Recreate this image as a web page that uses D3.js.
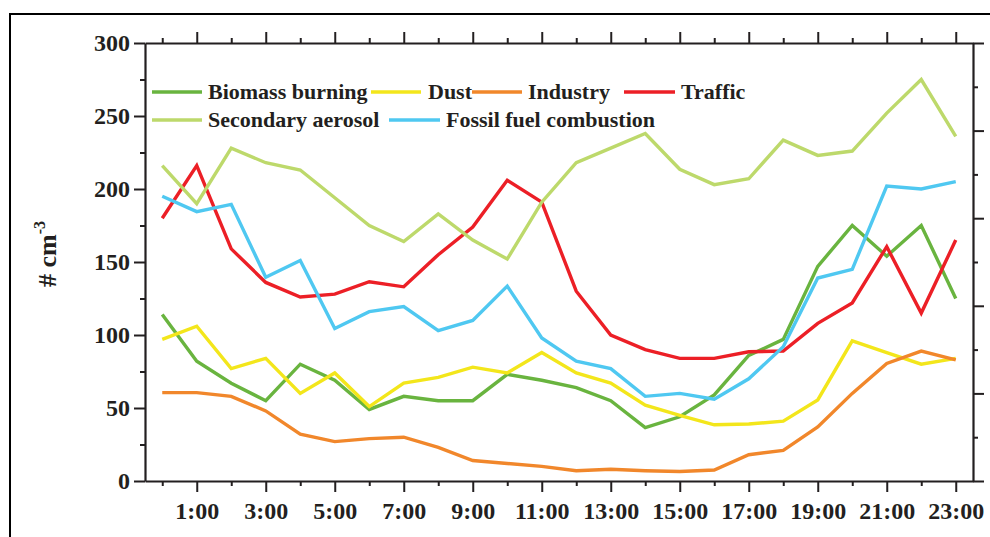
<!DOCTYPE html>
<html>
<head>
<meta charset="utf-8">
<script src="https://cdn.jsdelivr.net/npm/d3@7/dist/d3.min.js"></script>
<style>
  html, body { margin: 0; padding: 0; background: #fff; }
  svg { display: block; }
  text { font-family: "Times New Roman", "Liberation Serif", serif; font-weight: bold; fill: #231f20; }
</style>
</head>
<body>
<svg id="chart" width="990" height="537"></svg>
<script>
// Hour of day (0 = 0:00 ... 23 = 23:00)
const hours = d3.range(0, 24);

// Series names, in legend order
const seriesNames = ["Biomass burning", "Dust", "Industry", "Traffic", "Secondary aerosol", "Fossil fuel combustion"];

// Number concentration (# cm^-3) per hour
const biomassBurning = [114, 82, 67, 55, 80, 69, 49, 58, 55, 55, 73, 69, 64, 55, 36.5, 44, 59, 86, 97, 147, 175, 154, 175, 125];
const dust = [97, 106, 77, 84, 60, 74, 51, 67, 71, 78, 74, 88, 74, 67, 52, 45, 38.5, 39, 41, 55.5, 96, 88, 80, 84];
const industry = [60.5, 60.5, 58, 48, 32, 27, 29, 30, 23, 14, 12, 10, 7, 8, 7, 6.5, 7.5, 18, 21, 37, 60, 80.5, 89, 83];
const traffic = [180, 216, 159, 136, 126, 128, 136.5, 133, 155, 174, 206, 191, 130, 100, 90, 84, 84, 88.5, 89, 108, 122, 160.5, 115, 165];
const secondaryAerosol = [216, 190, 228, 218, 213, 194, 175, 164, 183, 165, 152, 191, 218, 228, 238, 213.5, 203, 207, 233.5, 223, 226, 252, 275, 236];
const fossilFuel = [195, 184.5, 189.5, 139.5, 151, 104.5, 116, 119.5, 103, 110, 133.5, 98, 82, 77, 58, 60, 56, 70, 92, 139, 145, 202, 200, 205];

// Axis tick values / labels
const yTicks = d3.range(0, 301, 25);          // left axis, labelled every 50
const yRightTicks = d3.range(0, 301, 30);     // right axis, long every 60
const xTickLabels = hours.map(h => h % 2 === 1 ? h + ":00" : "");

const seriesValues = [biomassBurning, dust, industry, traffic, secondaryAerosol, fossilFuel];
const colors = ["#69b43f", "#f3e61b", "#f1872b", "#ec1f26", "#bdd96b", "#4fc8f1"];

const svg = d3.select("#chart");
const ink = "#231f20";

// outer frame
svg.append("rect")
  .attr("x", 10).attr("y", 14).attr("width", 1000).attr("height", 560)
  .attr("fill", "none").attr("stroke", "#000").attr("stroke-width", 2);

const plot = { left: 145, right: 973, top: 43, bottom: 481 };

const x = d3.scaleLinear().domain([-0.5, 23.5]).range([plot.left, plot.right]);
const y = d3.scaleLinear().domain([0, 300]).range([plot.bottom, plot.top]);

function styleAxis(g) {
  g.select(".domain").attr("stroke", ink).attr("stroke-width", 2.2);
  g.selectAll(".tick line").attr("stroke", ink).attr("stroke-width", 2);
}

// bottom axis
const gBottom = svg.append("g")
  .attr("transform", `translate(0,${plot.bottom})`)
  .call(d3.axisBottom(x).tickValues(hours).tickSizeOuter(0)
        .tickFormat((d, i) => xTickLabels[i]));
styleAxis(gBottom);
gBottom.selectAll(".tick line").attr("y2", d => d % 2 === 1 ? 11 : 5);
gBottom.selectAll(".tick text")
  .attr("y", 21).attr("font-size", 24)
  .attr("font-family", "'Times New Roman', 'Liberation Serif', serif")
  .attr("fill", ink);

// top axis
const gTop = svg.append("g")
  .attr("transform", `translate(0,${plot.top})`)
  .call(d3.axisTop(x).tickValues(hours).tickSizeOuter(0).tickFormat(""));
styleAxis(gTop);
gTop.selectAll(".tick line").attr("y2", d => d % 2 === 1 ? -11 : -5);

// left axis
const gLeft = svg.append("g")
  .attr("transform", `translate(${plot.left},0)`)
  .call(d3.axisLeft(y).tickValues(yTicks).tickSizeOuter(0)
        .tickFormat(d => d % 50 === 0 ? d : ""));
styleAxis(gLeft);
gLeft.selectAll(".tick line").attr("x2", d => d % 50 === 0 ? -11 : -5);
gLeft.selectAll(".tick text")
  .attr("x", -15).attr("font-size", 24)
  .attr("font-family", "'Times New Roman', 'Liberation Serif', serif")
  .attr("fill", ink);

// right axis
const gRight = svg.append("g")
  .attr("transform", `translate(${plot.right},0)`)
  .call(d3.axisRight(y).tickValues(yRightTicks).tickSizeOuter(0).tickFormat(""));
styleAxis(gRight);
gRight.selectAll(".tick line").attr("x2", d => d % 60 === 0 ? 11 : 5);

// y axis title
const yTitle = svg.append("text")
  .attr("transform", "translate(56,254) rotate(-90)")
  .attr("text-anchor", "middle")
  .attr("font-size", 26);
yTitle.append("tspan").text("# cm");
yTitle.append("tspan").attr("font-size", 16).attr("dy", -11).text("-3");

// series lines
const line = d3.line().x((d, i) => x(hours[i])).y(d => y(d));
svg.append("g").selectAll("path")
  .data(seriesValues)
  .join("path")
  .attr("d", d => line(d))
  .attr("fill", "none")
  .attr("stroke", (d, i) => colors[i])
  .attr("stroke-width", 3.4)
  .attr("stroke-linejoin", "miter");

// legend
const legendLayout = [
  { x1: 152, x2: 202, tx: 208, ly: 92, ty: 99 },
  { x1: 371, x2: 421, tx: 428, ly: 92, ty: 99 },
  { x1: 472, x2: 522, tx: 528, ly: 92, ty: 99 },
  { x1: 624, x2: 675, tx: 681, ly: 92, ty: 99 },
  { x1: 152, x2: 202, tx: 208, ly: 120, ty: 127 },
  { x1: 389, x2: 440, tx: 446, ly: 120, ty: 127 }
];
const legend = svg.append("g");
seriesNames.forEach((name, i) => {
  const p = legendLayout[i];
  legend.append("line")
    .attr("x1", p.x1).attr("x2", p.x2).attr("y1", p.ly).attr("y2", p.ly)
    .attr("stroke", colors[i]).attr("stroke-width", 3.6);
  legend.append("text")
    .attr("x", p.tx).attr("y", p.ty)
    .attr("font-size", 22)
    .text(name);
});
</script>
</body>
</html>
